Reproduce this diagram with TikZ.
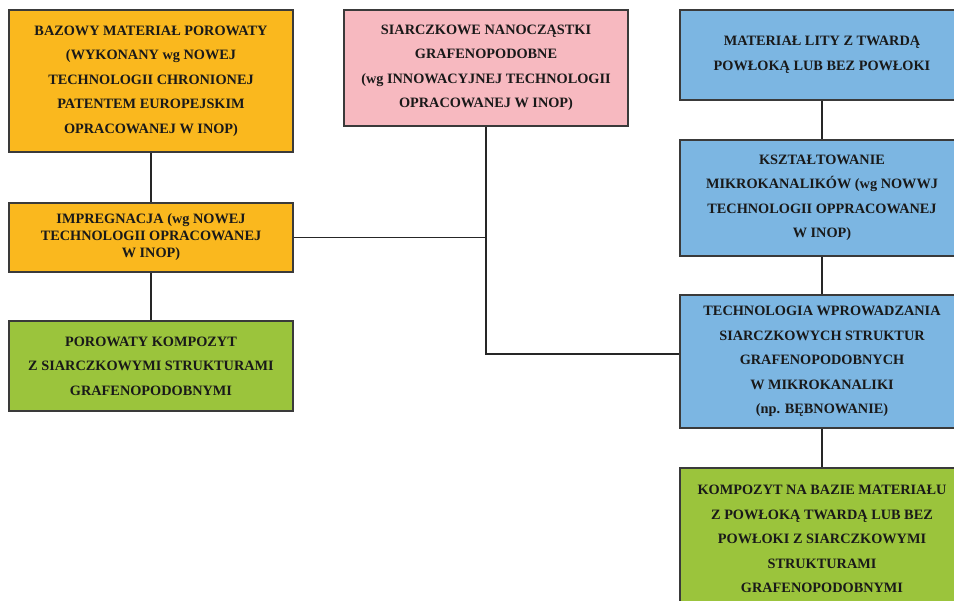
\documentclass[tikz,border=0pt]{standalone}
\usepackage{fontspec}
\setmainfont{Liberation Serif}
\definecolor{orangebox}{HTML}{FAB81E}
\definecolor{pinkbox}{HTML}{F7B9C0}
\definecolor{bluebox}{HTML}{7CB6E2}
\definecolor{greenbox}{HTML}{9BC43C}
\definecolor{edge}{HTML}{3A3A3A}
\begin{document}
\begin{tikzpicture}[x=1pt,y=-1pt,
  box/.style={draw=edge, line width=1.1pt, minimum width=284pt, inner sep=0pt,
    align=center, font=\fontsize{14.3}{24.5}\selectfont\bfseries, text=black!90},
  link/.style={draw=black!85, line width=1.1pt}]
\useasboundingbox (0,0) rectangle (954,601);
\node[box, fill=orangebox, minimum height=142pt] (a) at (151,81)
  {BAZOWY MATERIAŁ POROWATY\\(WYKONANY wg NOWEJ\\TECHNOLOGII CHRONIONEJ\\PATENTEM EUROPEJSKIM\\OPRACOWANEJ W INOP)};
\node[box, fill=orangebox, minimum height=69pt, font=\fontsize{14.3}{17}\selectfont\bfseries] (b) at (151,237.5)
  {IMPREGNACJA (wg NOWEJ\\TECHNOLOGII OPRACOWANEJ\\W INOP)};
\node[box, fill=greenbox, minimum height=90pt] (c) at (151,366)
  {POROWATY KOMPOZYT\\Z SIARCZKOWYMI STRUKTURAMI\\GRAFENOPODOBNYMI};
\node[box, fill=pinkbox, minimum height=116pt] (p) at (486,68)
  {SIARCZKOWE NANOCZĄSTKI\\GRAFENOPODOBNE\\(wg INNOWACYJNEJ TECHNOLOGII\\OPRACOWANEJ W INOP)};
\node[box, fill=bluebox, minimum height=90pt] (d) at (822,55)
  {MATERIAŁ LITY Z TWARDĄ\\POWŁOKĄ LUB BEZ POWŁOKI};
\node[box, fill=bluebox, minimum height=116pt] (e) at (822,198)
  {KSZTAŁTOWANIE\\MIKROKANALIKÓW (wg NOWWJ\\TECHNOLOGII OPPRACOWANEJ\\W INOP)};
\node[box, fill=bluebox, minimum height=133pt] (f) at (822,361.5)
  {TECHNOLOGIA WPROWADZANIA\\SIARCZKOWYCH STRUKTUR\\GRAFENOPODOBNYCH\\W MIKROKANALIKI\\(np. BĘBNOWANIE)};
\node[box, fill=greenbox, minimum height=142pt] (g) at (822,539)
  {KOMPOZYT NA BAZIE MATERIAŁU\\Z POWŁOKĄ TWARDĄ LUB BEZ\\POWŁOKI Z SIARCZKOWYMI\\STRUKTURAMI\\GRAFENOPODOBNYMI};
\coordinate (j) at (486,354);
\draw[link] (a.south) -- (b.north);
\draw[link] (b.south) -- (c.north);
\draw[link] (b.east) -- (b.east -| p.south);
\draw[link] (p.south) -- (j) -- (j -| f.west);
\draw[link] (d.south) -- (e.north);
\draw[link] (e.south) -- (f.north);
\draw[link] (f.south) -- (g.north);
\end{tikzpicture}
\end{document}
